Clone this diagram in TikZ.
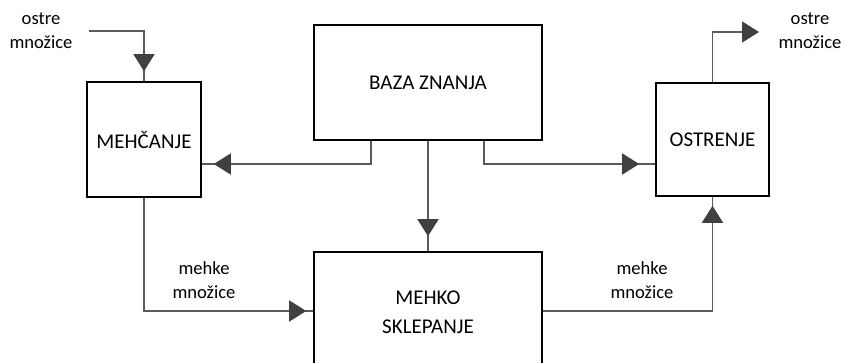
\documentclass[tikz,border=0pt]{standalone}
\usepackage{fontspec}
\setmainfont{Carlito}
\usetikzlibrary{arrows.meta,decorations.markings,calc}
\definecolor{conncol}{HTML}{5A5A5A}
\definecolor{tipcol}{HTML}{404040}
\tikzset{
  blk/.style={draw=black, line width=1.6pt, rectangle, inner sep=0pt, font=\fontsize{21}{29}\selectfont, align=center},
  conn/.style={draw=conncol, line width=1.6pt},
  midtip/.style={postaction={decorate, decoration={markings,
      mark=at position -#1 with {\arrow[tipcol]{Triangle[length=17pt,width=21pt]}}}}},
  endtip/.style={-{Triangle[length=17pt,width=21pt,color=tipcol]}},
  lbl/.style={font=\fontsize{18.6}{24}\selectfont, align=center, inner sep=0pt},
}
\begin{document}
\begin{tikzpicture}[x=1pt,y=-1pt]
\useasboundingbox (0,0) rectangle (846,363);
\clip (0,0) rectangle (846,363);
\node[blk, minimum width=114pt, minimum height=115pt] (mehc) at (144,139.5) {MEHČANJE};
\node[blk, minimum width=228pt, minimum height=115pt] (baza) at (428,82.5) {BAZA ZNANJA};
\node[blk, minimum width=113pt, minimum height=113pt] (ostr) at (712.5,139.5) {OSTRENJE};
\node[blk, minimum width=228pt, minimum height=120pt] (mehko) at (428,312) {MEHKO\\SKLEPANJE};

\node[lbl] (inlbl) at (41,31) {ostre\\množice};
\node[lbl] (outlbl) at (810,31) {ostre\\množice};
\node[lbl] (ml1) at (204,280) {mehke\\množice};
\node[lbl] (ml2) at (642,280) {mehke\\množice};

\coordinate (inS) at (89,31);
\coordinate (outE) at (759,32);

% input
\draw[conn, midtip=10pt] (inS) -| (mehc.north);
% baza -> mehcanje
\draw[conn, midtip=12pt] ($(baza.south)+(-57,0)$) |- (mehc.east |- 0,164);
% baza -> mehko
\draw[conn, midtip=15pt] (baza.south) -- (mehko.north);
% baza -> ostrenje
\draw[conn, midtip=16pt] ($(baza.south)+(56,0)$) |- (ostr.west |- 0,164);
% mehcanje -> mehko
\draw[conn, midtip=7pt] (mehc.south) |- (mehko.west |- 0,311);
% mehko -> ostrenje
\draw[conn, midtip=9pt] (mehko.east |- 0,311) -| (ostr.south);
% output
\draw[conn, endtip] (ostr.north) |- (outE);
\end{tikzpicture}
\end{document}
